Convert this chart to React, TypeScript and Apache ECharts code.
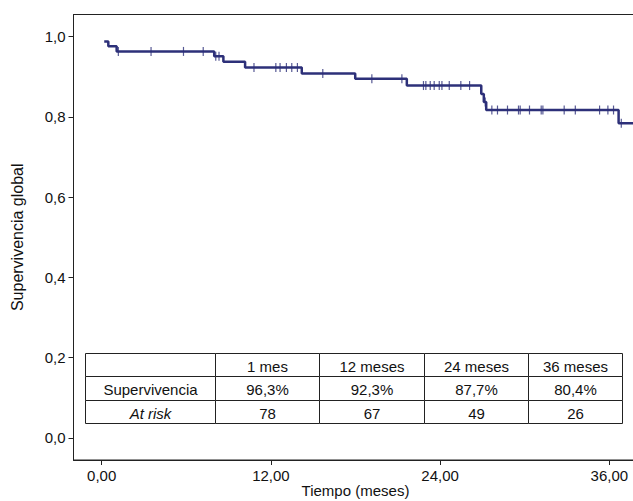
import React, { useEffect, useRef } from "react";
import * as echarts from "echarts";

// Kaplan-Meier step curve: time (months) and survival after the step
const stepTimes = [0.18, 0.47, 1.06, 7.98, 8.63, 10.17, 14.19, 17.98, 21.64, 26.92, 27.1, 27.27, 36.66];
const stepLevels = [0.988, 0.976, 0.963, 0.951, 0.937, 0.923, 0.908, 0.895, 0.878, 0.857, 0.837, 0.817, 0.784];
const curveEnd = 37.8;

// censored observations (months)
const censorTimes = [
  1.18, 3.5, 5.8, 7.2, 8.09, 8.32, 10.8, 12.35, 12.65, 13.1, 13.48, 13.88, 15.68, 19.16, 21.29,
  22.82, 22.99, 23.3, 23.58, 23.94, 24.13, 24.65, 25.47, 26.09, 27.2, 27.67, 28.07, 28.78, 29.56,
  29.68, 30.34, 31.17, 31.29, 32.8, 33.59, 35.31, 35.9, 36.3, 36.85,
];

const xTickValues = [0, 12, 24, 36];
const xTickLabels = ["0,00", "12,00", "24,00", "36,00"];
const yTickValues = [0, 0.2, 0.4, 0.6, 0.8, 1.0];
const yTickLabels = ["0,0", "0,2", "0,4", "0,6", "0,8", "1,0"];

// table
const tableHeaders = ["", "1 mes", "12 meses", "24 meses", "36 meses"];
const survivalRow = ["Supervivencia", "96,3%", "92,3%", "87,7%", "80,4%"];
const atRiskRow = ["At risk", "78", "67", "49", "26"];

const FONT = "'Liberation Sans', Arial, Helvetica, sans-serif";
const NAVY = "#2d3079";

function levelAt(t: number): number {
  let s = stepLevels[0];
  for (let i = 0; i < stepTimes.length; i++) {
    if (stepTimes[i] <= t) s = stepLevels[i];
  }
  return s;
}

export default function App() {
  const ref = useRef<HTMLDivElement>(null);
  useEffect(() => {
    document.body.style.margin = "0";
    const chart = echarts.init(ref.current!, null, { renderer: "svg" });

    const linePts: number[][] = [[stepTimes[0], stepLevels[0]]];
    for (let i = 1; i < stepTimes.length; i++) {
      linePts.push([stepTimes[i], stepLevels[i - 1]]);
      linePts.push([stepTimes[i], stepLevels[i]]);
    }
    linePts.push([curveEnd, stepLevels[stepLevels.length - 1]]);

    const censorPts = censorTimes.map((t) => [t, levelAt(t)]);

    const colEdges = [85.5, 215.5, 319.5, 424.5, 528.5, 622.5];
    const rowEdges = [353.5, 376.5, 400.5, 423.5];
    const rows = [tableHeaders, survivalRow, atRiskRow];
    const graphics: any[] = [];
    rows.forEach((row, r) => {
      row.forEach((txt, c) => {
        const x0 = colEdges[c];
        const x1 = colEdges[c + 1];
        const y0 = rowEdges[r];
        const y1 = rowEdges[r + 1];
        graphics.push({
          type: "rect",
          shape: { x: x0, y: y0, width: x1 - x0, height: y1 - y0 },
          style: { fill: "#fff", stroke: "#222", lineWidth: 1 },
          z: 10,
        });
        if (txt) {
          graphics.push({
            type: "text",
            x: (x0 + x1) / 2,
            y: (y0 + y1) / 2 + 1,
            style: {
              text: txt,
              align: "center",
              verticalAlign: "middle",
              fontSize: 15,
              fontFamily: FONT,
              fontStyle: r === 2 && c === 0 ? "italic" : "normal",
              fill: "#111",
            },
            z: 11,
          });
        }
      });
    });

    chart.setOption({
      animation: false,
      backgroundColor: "#fff",
      grid: {
        left: 73.5,
        top: 14.5,
        width: 564,
        height: 445.5,
        show: true,
        borderColor: "#222",
        borderWidth: 1,
        containLabel: false,
        outerBoundsMode: "none",
      },
      xAxis: {
        type: "value",
        min: -2,
        max: 38,
        name: "Tiempo (meses)",
        nameLocation: "middle",
        nameGap: 23,
        nameMoveOverlap: false,
        nameTextStyle: { fontSize: 15, fontFamily: FONT, color: "#111" },
        axisLine: { show: true, onZero: false, lineStyle: { color: "#222", width: 1 } },
        axisTick: { show: true, customValues: xTickValues, length: 5, lineStyle: { color: "#222" } },
        axisLabel: {
          customValues: xTickValues,
          formatter: (v: number) => xTickLabels[xTickValues.indexOf(v)] ?? "",
          fontSize: 15,
          fontFamily: FONT,
          color: "#111",
          margin: 8,
        },
        splitLine: { show: false },
      },
      yAxis: {
        type: "value",
        min: -0.055,
        max: 1.055,
        name: "Supervivencia global",
        nameLocation: "middle",
        nameGap: 48,
        nameTextStyle: { fontSize: 16, fontFamily: FONT, color: "#111" },
        axisLine: { show: true, onZero: false, lineStyle: { color: "#222", width: 1 } },
        axisTick: { show: true, customValues: yTickValues, length: 5, lineStyle: { color: "#222" } },
        axisLabel: {
          customValues: yTickValues,
          formatter: (v: number) => {
            const i = yTickValues.findIndex((y) => Math.abs(y - v) < 1e-6);
            return i >= 0 ? yTickLabels[i] : "";
          },
          fontSize: 15,
          fontFamily: FONT,
          color: "#111",
          margin: 8,
        },
        splitLine: { show: false },
      },
      series: [
        {
          type: "line",
          data: linePts,
          showSymbol: false,
          symbol: "none",
          lineStyle: { color: NAVY, width: 2.5 },
          z: 3,
        },
        {
          type: "scatter",
          data: censorPts,
          symbol: "rect",
          symbolSize: [1.2, 9],
          itemStyle: { color: NAVY },
          z: 4,
        },
      ],
      graphic: graphics,
    });
    return () => chart.dispose();
  }, []);
  return <div ref={ref} style={{ width: 633, height: 501 }} />;
}
